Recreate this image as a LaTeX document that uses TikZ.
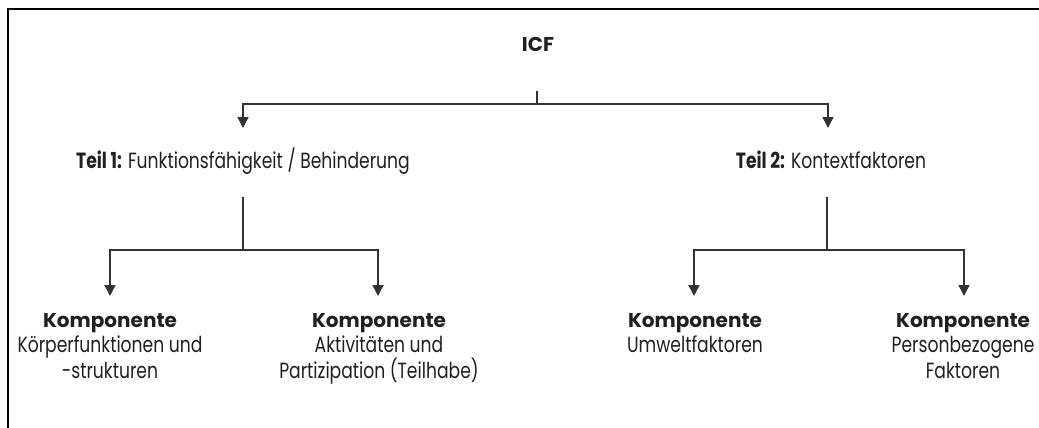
\documentclass[tikz,border=0pt]{standalone}
\usepackage{fontspec}
\setmainfont{Poppins}[FakeStretch=0.78]
\newfontfamily\kfont{Poppins}
\usetikzlibrary{arrows.meta}
\definecolor{ink}{HTML}{231F20}
\definecolor{ln}{HTML}{333333}
\newcommand{\komp}{{\kfont\fontsize{20}{25}\selectfont\bfseries Komponente}}
\begin{document}
\begin{tikzpicture}[x=1pt,y=-1pt,
  conn/.style={draw=ln,line width=1.4pt},
  arr/.style={conn,-{Triangle[width=11pt,length=11pt]}},
  lbl/.style={text=ink,inner sep=0pt,align=center,font=\fontsize{22}{25.5}\selectfont},
  comp/.style={lbl,anchor=north}]
\useasboundingbox (0,0) rectangle (1039,428);
\draw[line width=2pt,black] (8,428) -- (8,9) -- (1039,9);
% top
\node[lbl,anchor=base,font=\kfont\fontsize{20}{22}\selectfont\bfseries] (icf) at (538,52) {ICF};
\node[lbl,anchor=base] (t1) at (243,168) {{\fontsize{22}{25}\selectfont\bfseries Teil 1:} Funktionsfähigkeit / Behinderung};
\node[lbl,anchor=base] (t2) at (831,168) {{\fontsize{22}{25}\selectfont\bfseries Teil 2:} Kontextfaktoren};
\coordinate (j0) at (537,91);
\coordinate (j0b) at (537,104);
\coordinate (a1) at (243,128);
\coordinate (a2) at (828,128);
\draw[conn] (j0) -- (j0b);
\draw[arr] (j0b) -| (a1);
\draw[arr] (j0b) -| (a2);
% left subtree
\coordinate (l0) at (243,197);
\coordinate (l0b) at (243,250);
\coordinate (b1) at (110,296);
\coordinate (b2) at (378,296);
\draw[conn] (l0) -- (l0b);
\draw[arr] (l0b) -| (b1);
\draw[arr] (l0b) -| (b2);
% right subtree
\coordinate (r0) at (827,197);
\coordinate (r0b) at (827,250);
\coordinate (b3) at (694,296);
\coordinate (b4) at (964,296);
\draw[conn] (r0) -- (r0b);
\draw[arr] (r0b) -| (b3);
\draw[arr] (r0b) -| (b4);
% components
\node[comp] (k1) at (110,313) {\komp\\Körperfunktionen und\\-strukturen};
\node[comp] (k2) at (379,313) {\komp\\Aktivitäten und\\Partizipation (Teilhabe)};
\node[comp] (k3) at (695,313) {\komp\\Umweltfaktoren};
\node[comp] (k4) at (963,313) {\komp\\Personbezogene\\Faktoren};
\end{tikzpicture}
\end{document}
